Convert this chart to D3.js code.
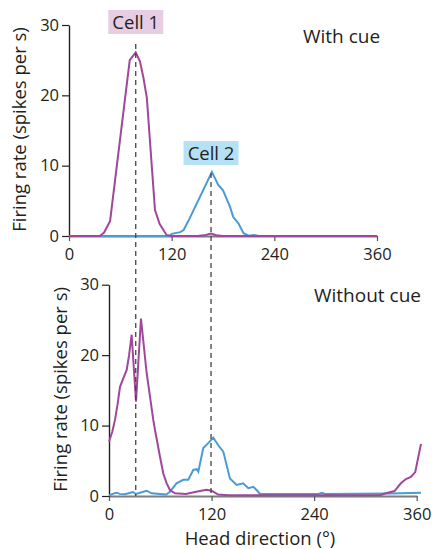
<!DOCTYPE html>
<html>
<head>
<meta charset="utf-8">
<script src="https://cdn.jsdelivr.net/npm/d3@7"></script>
<style>
body{margin:0;background:#fff;}
text{font-family:"Open Sans",Lato,sans-serif;fill:#231f20;}
</style>
</head>
<body>
<div id="chart"></div>
<script>
// tick values
var xTicks=[0,120,240,360];
var yTicks=[0,10,20,30];

// with cue: [head direction, firing rate]
var cueCell1=[[0,0],[36,0],[41,0.5],[48,2.1],[71,25],[78,26.1],[83,24.8],[87,22.5],[91,19.6],[100.5,3.7],[106,1.7],[114,0.15],[120,0],[150,0],[160,0.15],[166,0.35],[172,0.1],[180,0],[300,0],[360,0]];
var cueCell2=[[0,0],[118,0],[120,0.3],[130,0.55],[134,0.85],[141,2.5],[167,9.1],[174.5,7.25],[180,6.5],[188,4.2],[192,2.7],[198,1.8],[204,0.4],[210,0.05],[216,0.15],[222,0],[360,0]];

// without cue
var noCueCell1=[[0,7.7],[4,9.2],[7,10.8],[10,13],[12.9,15.5],[16.7,16.7],[20.7,17.9],[23.5,20],[26.5,22.9],[31.6,13.4],[37.4,25.2],[44,17.5],[51.8,10.8],[53.8,9.4],[59.6,5.6],[63.5,3.2],[67.5,1.8],[71.3,0.85],[77.2,0.38],[90,0.28],[102,0.6],[114,0.9],[120,0.75],[127.7,0.2],[140,0.12],[250,0.12],[318,0.15],[324,0.4],[334,0.7],[341.5,1.8],[347.4,2.4],[353.2,2.7],[358.3,3.4],[365,7.4]];
var noCueCell2=[[0,0.15],[1.2,0.14],[6.7,0.4],[9,0.47],[12.5,0.3],[18.7,0.24],[26,0.5],[28.4,0.57],[31,0.3],[34.3,0.38],[44,0.75],[49.9,0.38],[59.6,0.28],[67,0.2],[71.3,0.6],[79,1.8],[86.9,2.3],[92.7,2.3],[98.6,3.7],[102.6,3.8],[104.5,3.45],[110.3,6.8],[116.1,7.5],[122,8.3],[127.8,7.2],[133.7,6.3],[141.5,2.5],[149.3,1.56],[157,1.8],[163,1.1],[168.8,1.3],[172.7,0.85],[176.6,0.3],[200,0.3],[245,0.3],[249,0.45],[253,0.3],[330,0.35],[365,0.45]];

// preferred directions of the two cells with the cue
var cuePeaks=[78,166];
var cellNames=["Cell 1","Cell 2"];

var purple="#a0479c";
var blue="#4a9bd3";
var boxFill=["#e6cde4","#b5e1f6"];

var svg=d3
  .select("#chart")
  .append("svg")
  .attr("width",432)
  .attr("height",549);

var top_={x0:69,x1:377,y0:236,y1:25};
var bot_={x0:109,x1:416.7,y0:496,y1:284.7};

function panel(p,c1,c2,title,tx,ty,labelX){
  var xs=d3.scaleLinear().domain([0,360]).range([p.x0,p.x1]);
  var ys=d3.scaleLinear().domain([0,30]).range([p.y0,p.y1]);
  var g=svg.append("g");
  var xa=g.append("g")
    .attr("transform","translate(0,"+p.y0+")")
    .call(d3.axisBottom(xs).tickValues(xTicks).tickSize(5).tickSizeOuter(0).tickPadding(7));
  xa.select(".domain").attr("stroke","#7d7d7d").attr("stroke-width",2);
  xa.selectAll(".tick line").attr("stroke","#555").attr("stroke-width",1.2);
  xa.selectAll("text").attr("font-size",16.5).style("fill","#231f20");
  var ya=g.append("g")
    .attr("transform","translate("+p.x0+",0)")
    .call(d3.axisLeft(ys).tickValues(yTicks).tickSize(7).tickSizeOuter(0).tickPadding(3));
  ya.select(".domain").attr("stroke","#231f20").attr("stroke-width",1.4);
  ya.selectAll(".tick line").attr("stroke","#231f20").attr("stroke-width",1.2);
  ya.selectAll("text").attr("font-size",16.5).style("fill","#231f20");
  var line=d3.line()
    .x(function(d){return xs(d[0]);})
    .y(function(d){return ys(d[1]);});
  g.append("path").datum(c2)
    .attr("d",line).attr("fill","none").attr("stroke",blue).attr("stroke-width",2);
  g.append("path").datum(c1)
    .attr("d",line).attr("fill","none").attr("stroke",purple).attr("stroke-width",2);
  g.append("text")
    .attr("x",tx).attr("y",ty)
    .attr("font-size",19)
    .text(title);
  g.append("text")
    .attr("transform","translate("+labelX+","+((p.y0+p.y1)/2-1)+")rotate(-90)")
    .attr("text-anchor","middle")
    .attr("font-size",18.5)
    .text("Firing rate (spikes per s)");
  return {xs:xs,ys:ys};
}

var a=panel(top_,cueCell1,cueCell2,"With cue",303,43,26);
var b=panel(bot_,noCueCell1,noCueCell2,"Without cue",314,302,67);

// dashed guides from the cue peaks down to the lower axis
cuePeaks.forEach(function(v,i){
  var x=a.xs(v);
  var yStart=i===0?44:a.ys(9.1)+1;
  svg.append("line")
    .attr("x1",x).attr("x2",x)
    .attr("y1",yStart).attr("y2",bot_.y0)
    .attr("stroke","#444")
    .attr("stroke-width",1.3)
    .attr("stroke-dasharray","5,4");
});

// cell labels
var boxY=[10,141];
cuePeaks.forEach(function(v,i){
  var x=a.xs(v);
  svg.append("rect")
    .attr("x",x-27.5).attr("y",boxY[i])
    .attr("width",55).attr("height",24)
    .attr("fill",boxFill[i]);
  svg.append("text")
    .attr("x",x).attr("y",boxY[i]+18.5)
    .attr("text-anchor","middle")
    .attr("font-size",18.5)
    .text(cellNames[i]);
});

svg.append("text")
  .attr("x",260).attr("y",545)
  .attr("text-anchor","middle")
  .attr("font-size",18.5)
  .text("Head direction (°)");
</script>
</body>
</html>
